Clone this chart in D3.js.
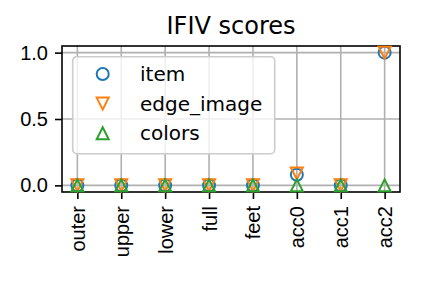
<!DOCTYPE html>
<html>
<head>
<meta charset="utf-8">
<script src="https://cdn.jsdelivr.net/npm/d3@7"></script>
<style>
  body { margin: 0; background: #fff; }
  svg { font-family: "DejaVu Sans", sans-serif; }
</style>
</head>
<body>
<svg id="chart" width="422" height="284"></svg>
<script>
// datos
const categories = ["outer", "upper", "lower", "full", "feet", "acc0", "acc1", "acc2"];
const itemScores = [0, 0, 0, 0, 0, 0.08, 0, 1.0];
const edgeImageScores = [0, 0, 0, 0, 0, 0.09, 0, 1.0];
const colorsScores = [0, 0, 0, 0, 0, 0, 0, 0];
const yTicks = [0.0, 0.5, 1.0];

const series = [
  { name: "item", values: itemScores, color: "#1f77b4", shape: "circle" },
  { name: "edge_image", values: edgeImageScores, color: "#ff7f0e", shape: "tdown" },
  { name: "colors", values: colorsScores, color: "#2ca02c", shape: "tup" }
];

const margin = { top: 46, right: 22, bottom: 92, left: 62 };
const width = 422 - margin.left - margin.right;
const height = 284 - margin.top - margin.bottom;

const svg = d3.select("#chart");
const g = svg.append("g").attr("transform", "translate(" + margin.left + "," + margin.top + ")");

const x = d3.scaleLinear().domain([-0.35, categories.length - 1 + 0.35]).range([0, width]);
const y = d3.scaleLinear().domain([-0.05, 1.05]).range([height, 0]);

// cuadrícula
g.append("g").selectAll("line").data(categories).enter().append("line")
  .attr("x1", (d, i) => x(i)).attr("x2", (d, i) => x(i))
  .attr("y1", 0).attr("y2", height)
  .attr("stroke", "#b0b0b0").attr("stroke-width", 1.6);
g.append("g").selectAll("line").data(yTicks).enter().append("line")
  .attr("x1", 0).attr("x2", width)
  .attr("y1", d => y(d)).attr("y2", d => y(d))
  .attr("stroke", "#b0b0b0").attr("stroke-width", 1.6);

// ejes
const xAxis = g.append("g")
  .attr("transform", "translate(0," + height + ")")
  .call(d3.axisBottom(x).tickValues(d3.range(categories.length)).tickFormat(i => categories[i]).tickSize(7));
xAxis.select(".domain").remove();
xAxis.selectAll("text")
  .attr("text-anchor", "end")
  .attr("x", 0).attr("y", 0).attr("dx", 0).attr("dy", "0.35em")
  .attr("transform", "translate(0,14) rotate(-90)")
  .attr("fill", "#000")
  .style("font-size", "20px");

const yAxis = g.append("g")
  .call(d3.axisLeft(y).tickValues(yTicks).tickFormat(d3.format(".1f")).tickSize(7).tickPadding(7));
yAxis.select(".domain").remove();
yAxis.selectAll("text").style("font-size", "20px").attr("fill", "#000");
g.selectAll(".tick line").attr("stroke", "#000").attr("stroke-width", 1.6);

g.append("rect").attr("width", width).attr("height", height)
  .attr("fill", "none").attr("stroke", "#000").attr("stroke-width", 1.6);

// marcadores
const r = 6;
function marker(sel, shape, color) {
  if (shape === "circle") {
    sel.append("circle").attr("r", r).attr("fill", "none").attr("stroke", color).attr("stroke-width", 2);
  } else {
    const s = shape === "tup" ? -1 : 1;
    sel.append("path")
      .attr("d", `M${-r},${-s * r}L${r},${-s * r}L0,${s * r}Z`)
      .attr("fill", "none").attr("stroke", color).attr("stroke-width", 2)
      .attr("stroke-linejoin", "miter");
  }
}

series.forEach(sr => {
  sr.values.forEach((v, i) => {
    const m = g.append("g").attr("transform", "translate(" + x(i) + "," + y(v) + ")");
    marker(m, sr.shape, sr.color);
  });
});

// leyenda
const legend = g.append("g").attr("transform", "translate(10.7,10.7)");
legend.append("rect").attr("width", 202).attr("height", 97).attr("rx", 4)
  .attr("fill", "#fff").attr("fill-opacity", 0.8).attr("stroke", "#cccccc").attr("stroke-width", 1.6);
series.forEach((sr, i) => {
  const row = legend.append("g").attr("transform", "translate(30," + (17.3 + i * 29.6) + ")");
  marker(row, sr.shape, sr.color);
  row.append("text").attr("x", 37.3).attr("y", 0).attr("dy", "0.35em")
    .style("font-size", "20px").text(sr.name);
});

// título
svg.append("text").attr("x", margin.left + width / 2).attr("y", 33.5)
  .attr("text-anchor", "middle").style("font-size", "24px").text("IFIV scores");
</script>
</body>
</html>
